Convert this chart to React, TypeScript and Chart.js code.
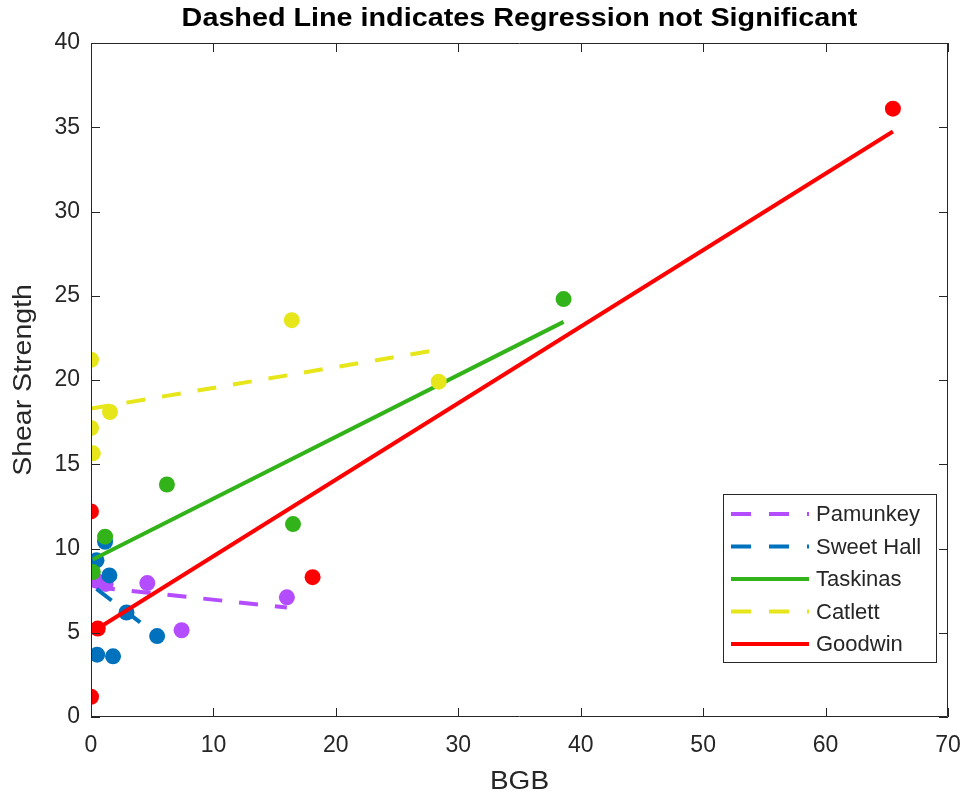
import React, { useEffect, useRef } from "react";
import { Chart, registerables } from "chart.js";

Chart.register(...registerables);

const seriesNames = ["Pamunkey", "Sweet Hall", "Taskinas", "Catlett", "Goodwin"];
const seriesColors = ["#B34DFF", "#0072BD", "#33B31A", "#E6E61A", "#FF0000"];
const significant = [false, false, true, false, true];

const pamunkeyX = [0.4, 1.2, 4.6, 7.4, 16.0];
const pamunkeyY = [8.1, 7.9, 7.95, 5.15, 7.1];
const sweetHallX = [1.15, 0.45, 1.5, 2.9, 5.4, 0.5, 1.8];
const sweetHallY = [10.4, 9.3, 8.4, 6.2, 4.8, 3.7, 3.6];
const taskinasX = [0.15, 1.15, 6.2, 16.5, 38.6];
const taskinasY = [8.6, 10.7, 13.8, 11.45, 24.8];
const catlettX = [0, 0, 0.15, 1.55, 16.4, 28.4];
const catlettY = [21.2, 17.15, 15.65, 18.1, 23.55, 19.9];
const goodwinX = [0, 0.55, 0, 18.1, 65.5];
const goodwinY = [1.2, 5.25, 12.2, 8.3, 36.1];

// regression line end points [x0, y0, x1, y1]
const pamunkeyFit = [0.4, 7.7, 16.0, 6.5];
const sweetHallFit = [0.45, 7.6, 5.4, 4.85];
const taskinasFit = [0.15, 9.35, 38.6, 23.45];
const catlettFit = [0, 18.3, 28.4, 21.8];
const goodwinFit = [0.55, 5.25, 65.5, 34.75];

const xTicks = [0, 10, 20, 30, 40, 50, 60, 70];
const yTicks = [0, 5, 10, 15, 20, 25, 30, 35, 40];

const titleText = "Dashed Line indicates Regression not Significant";
const xLabel = "BGB";
const yLabel = "Shear Strength";

const FONT = "'Liberation Sans', Arial, Helvetica, sans-serif";
const TEXT = "#262626";
const DASH = [19, 17];

const allX = [pamunkeyX, sweetHallX, taskinasX, catlettX, goodwinX];
const allY = [pamunkeyY, sweetHallY, taskinasY, catlettY, goodwinY];
const allFit = [pamunkeyFit, sweetHallFit, taskinasFit, catlettFit, goodwinFit];

function stretchedText(ctx: any, text: string, x: number, y: number, sx: number, rot: number) {
  ctx.save();
  ctx.translate(x, y);
  ctx.rotate(rot);
  ctx.scale(sx, 1);
  ctx.fillText(text, 0, 0);
  ctx.restore();
}

const framePlugin = {
  id: "frameTicks",
  afterDatasetsDraw(chart: any) {
    const { ctx, chartArea } = chart;
    const { left, right, top, bottom } = chartArea;
    const xs = chart.scales.x;
    const ys = chart.scales.y;
    const tl = 9;
    ctx.save();
    ctx.strokeStyle = TEXT;
    ctx.lineWidth = 1;
    ctx.beginPath();
    ctx.rect(left + 0.5, top + 0.5, right - left - 1, bottom - top - 1);
    for (const v of xTicks) {
      const px = Math.round(xs.getPixelForValue(v)) + 0.5;
      ctx.moveTo(px, bottom);
      ctx.lineTo(px, bottom - tl);
      ctx.moveTo(px, top);
      ctx.lineTo(px, top + tl);
    }
    for (const v of yTicks) {
      const py = Math.round(ys.getPixelForValue(v)) + 0.5;
      ctx.moveTo(left, py);
      ctx.lineTo(left + tl, py);
      ctx.moveTo(right, py);
      ctx.lineTo(right - tl, py);
    }
    ctx.stroke();

    // title
    ctx.fillStyle = "#000";
    ctx.font = `bold 25px ${FONT}`;
    ctx.textAlign = "center";
    ctx.textBaseline = "middle";
    stretchedText(ctx, titleText, (left + right) / 2, 19, 1.15, 0);

    // axis titles
    ctx.fillStyle = TEXT;
    ctx.font = `25px ${FONT}`;
    stretchedText(ctx, xLabel, (left + right) / 2, 782, 1.12, 0);
    stretchedText(ctx, yLabel, 24, (top + bottom) / 2, 1.14, -Math.PI / 2);

    // legend
    const bx = right - 225;
    const by = bottom - 223;
    const bw = 213;
    const bh = 168;
    ctx.fillStyle = "#fff";
    ctx.fillRect(bx, by, bw, bh);
    ctx.strokeStyle = "#262626";
    ctx.lineWidth = 1;
    ctx.strokeRect(bx + 0.5, by + 0.5, bw, bh);
    ctx.font = `22px ${FONT}`;
    ctx.textAlign = "left";
    ctx.textBaseline = "middle";
    seriesNames.forEach((name, i) => {
      const yy = by + 20 + i * 32.5;
      ctx.strokeStyle = seriesColors[i];
      ctx.lineWidth = 4;
      ctx.setLineDash(significant[i] ? [] : [20, 18]);
      ctx.beginPath();
      ctx.moveTo(bx + 8, yy);
      ctx.lineTo(bx + 86, yy);
      ctx.stroke();
      ctx.setLineDash([]);
      ctx.fillStyle = TEXT;
      ctx.fillText(name, bx + 93, yy + 1);
    });
    ctx.restore();
  },
};

export default function App() {
  const ref = useRef<HTMLCanvasElement>(null);
  useEffect(() => {
    if (!ref.current) return;
    const datasets: any[] = [];
    seriesNames.forEach((name, i) => {
      datasets.push({
        type: "scatter",
        label: name + " data",
        data: allX[i].map((x, j) => ({ x, y: allY[i][j] })),
        backgroundColor: seriesColors[i],
        borderColor: seriesColors[i],
        pointRadius: 8,
        pointBorderWidth: 0,
        order: 2 * (5 - i) + 1,
      });
      const f = allFit[i];
      datasets.push({
        type: "line",
        label: name,
        data: [
          { x: f[0], y: f[1] },
          { x: f[2], y: f[3] },
        ],
        borderColor: seriesColors[i],
        borderWidth: 4,
        borderDash: significant[i] ? [] : DASH,
        pointRadius: 0,
        fill: false,
        tension: 0,
        order: 2 * (5 - i),
      });
    });
    const chart = new Chart(ref.current, {
      type: "scatter",
      data: { datasets },
      options: {
        animation: false,
        responsive: false,
        layout: { padding: { top: 43, right: 17, left: 0, bottom: 0 } },
        plugins: {
          legend: { display: false },
          tooltip: { enabled: false },
          title: { display: false },
        },
        scales: {
          x: {
            type: "linear",
            min: 0,
            max: 70,
            afterBuildTicks: (s: any) => {
              s.ticks = xTicks.map((v) => ({ value: v }));
            },
            afterFit: (s: any) => {
              s.height = 80;
              s.paddingLeft = 0;
              s.paddingRight = 0;
            },
            grid: { display: false, drawTicks: false },
            border: { display: false },
            ticks: {
              color: TEXT,
              font: { family: FONT, size: 23 },
              padding: 15,
              maxRotation: 0,
            },
          },
          y: {
            type: "linear",
            min: 0,
            max: 40,
            afterBuildTicks: (s: any) => {
              s.ticks = yTicks.map((v) => ({ value: v }));
            },
            afterFit: (s: any) => {
              s.width = 91;
              s.paddingTop = 0;
              s.paddingBottom = 0;
            },
            grid: { display: false, drawTicks: false },
            border: { display: false },
            ticks: {
              color: TEXT,
              font: { family: FONT, size: 23 },
              padding: 11,
            },
          },
        },
      },
      plugins: [framePlugin],
    });
    return () => chart.destroy();
  }, []);
  return (
    <div style={{ position: "absolute", left: 0, top: 0, width: 965, height: 797, background: "#fff" }}>
      <canvas ref={ref} width={965} height={797} />
    </div>
  );
}
